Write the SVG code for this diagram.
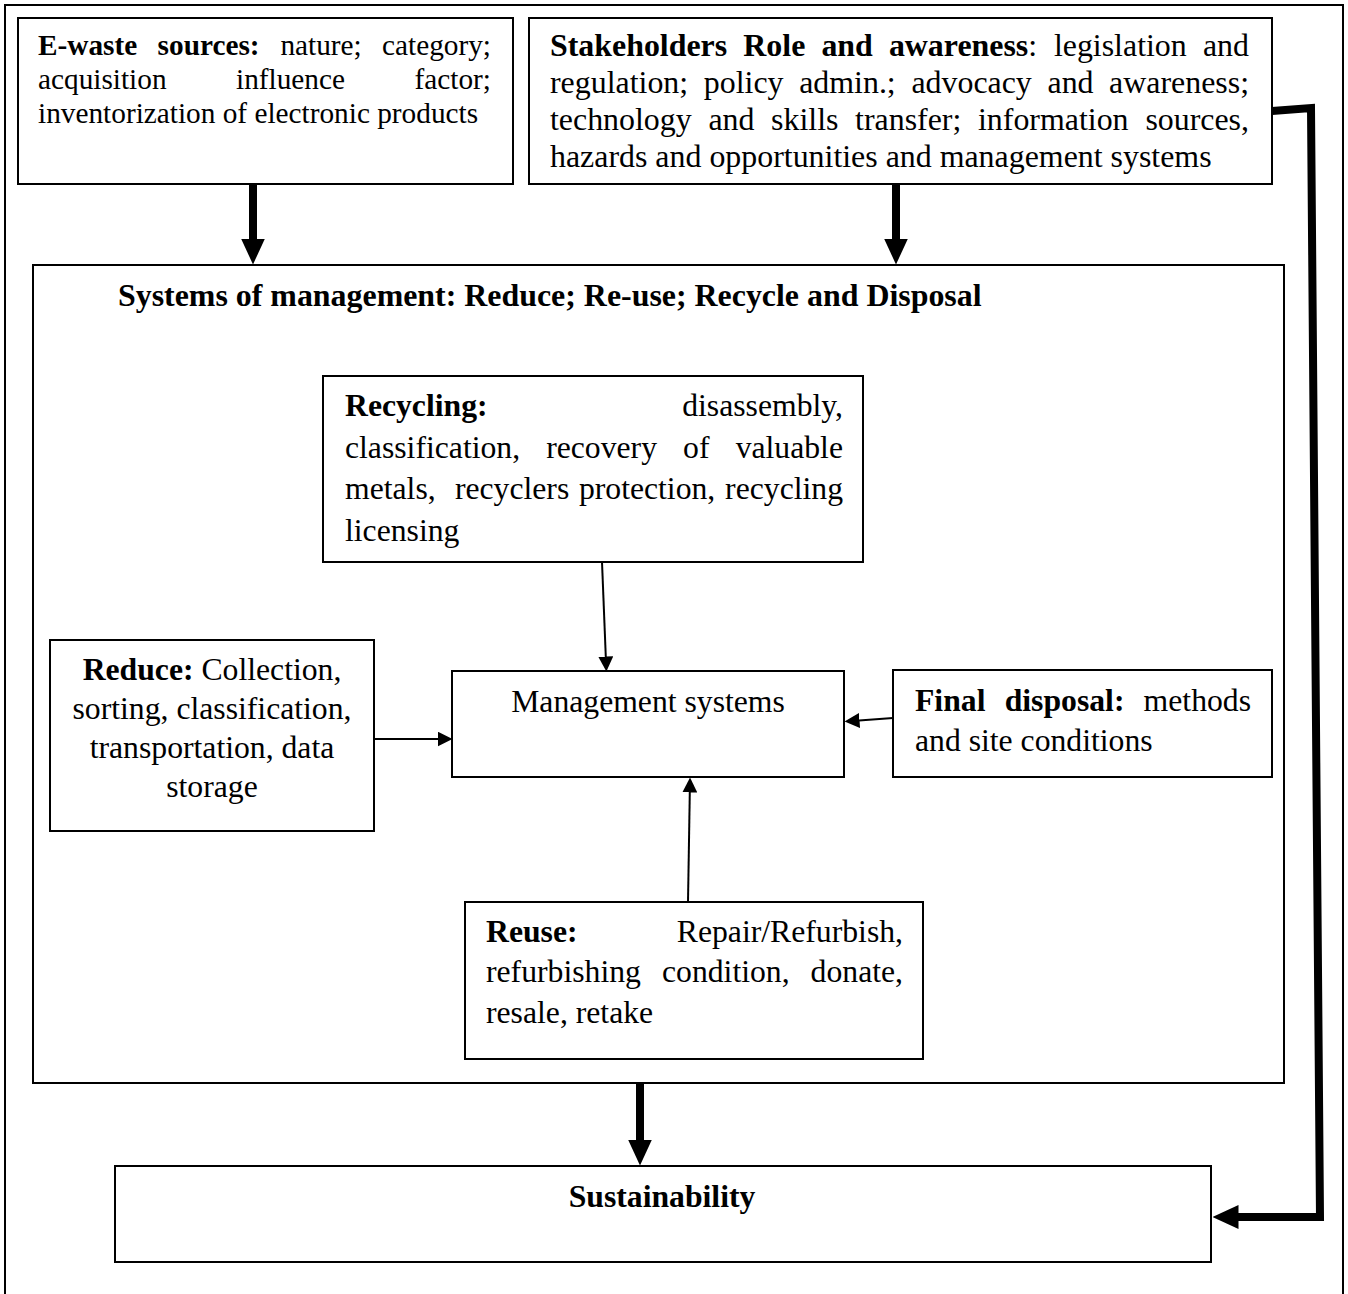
<svg xmlns="http://www.w3.org/2000/svg" width="1348" height="1294" viewBox="0 0 1348 1294">
<style>
.box{fill:#fff;stroke:#000;stroke-width:2}
.t{font-family:"Liberation Serif","Times New Roman",serif;fill:#000}
.b{font-weight:bold}
.f29{font-size:29.3px}
.f32{font-size:31.9px}
.f31{font-size:31.7px}
.thick{fill:none;stroke:#000;stroke-width:8}
.thin{fill:none;stroke:#000;stroke-width:2}
</style>
<defs>
<marker id="bigHead" markerUnits="userSpaceOnUse" viewBox="0 0 26 24" refX="0.5" refY="12" markerWidth="26" markerHeight="24" orient="auto">
<path d="M0,0 L26,12 L0,24 Z" fill="#000"/>
</marker>
<marker id="smallHead" markerUnits="userSpaceOnUse" viewBox="0 0 15 15" refX="0.5" refY="7.5" markerWidth="15" markerHeight="15" orient="auto">
<path d="M0,0 L15,7.5 L0,15 Z" fill="#000"/>
</marker>
</defs>
<rect width="1348" height="1294" fill="#fff"/>
<path d="M5,1294 V5 H1343 V1294" fill="none" stroke="#000" stroke-width="2"/>

<g id="ewaste">
<rect class="box" x="18" y="18" width="495" height="166"/>
<text class="t f29" y="55"><tspan x="38" class="b">E-waste</tspan><tspan x="157.6" class="b">sources:</tspan><tspan x="280.4">nature;</tspan></text>
<text class="t f29" x="491" y="55" text-anchor="end">category;</text>
<text class="t f29" y="89"><tspan x="38">acquisition</tspan><tspan x="236">influence</tspan></text>
<text class="t f29" x="491" y="89" text-anchor="end">factor;</text>
<text class="t f29" x="38" y="123">inventorization of electronic products</text>
</g>

<g id="stakeholders">
<rect class="box" x="529" y="18" width="743" height="166"/>
<text class="t f32" y="56"><tspan x="550" class="b">Stakeholders</tspan><tspan x="743.3" class="b">Role</tspan><tspan x="821.4" class="b">and</tspan><tspan x="888.9" class="b">awareness</tspan><tspan>: </tspan><tspan x="1053.9">legislation</tspan></text>
<text class="t f32" x="1249" y="56" text-anchor="end">and</text>
<text class="t f32" y="93"><tspan x="550">regulation;</tspan><tspan x="703.8">policy</tspan><tspan x="799.2">admin.;</tspan><tspan x="911.4">advocacy</tspan><tspan x="1047.5">and</tspan></text>
<text class="t f32" x="1249" y="93" text-anchor="end">awareness;</text>
<text class="t f32" y="130"><tspan x="550">technology</tspan><tspan x="708.4">and</tspan><tspan x="771.1">skills</tspan><tspan x="855.1">transfer;</tspan><tspan x="978">information</tspan></text>
<text class="t f32" x="1249" y="130" text-anchor="end">sources,</text>
<text class="t f32" x="550" y="167">hazards and opportunities and management systems</text>
</g>

<g id="systems">
<rect class="box" x="33" y="265" width="1251" height="818"/>
<text class="t f32 b" x="118" y="306">Systems of management: Reduce; Re-use; Recycle and Disposal</text>
</g>

<g id="recycling">
<rect class="box" x="323" y="376" width="540" height="186"/>
<text class="t f31 b" x="345" y="416">Recycling:</text>
<text class="t f31" x="843" y="416" text-anchor="end">disassembly,</text>
<text class="t f31" y="458"><tspan x="345">classification,</tspan><tspan x="546.2">recovery</tspan><tspan x="683.1">of</tspan></text>
<text class="t f31" x="843" y="458" text-anchor="end">valuable</text>
<text class="t f31" y="499"><tspan x="345">metals,</tspan><tspan x="454.9">recyclers</tspan><tspan x="578.9">protection,</tspan></text>
<text class="t f31" x="843" y="499" text-anchor="end">recycling</text>
<text class="t f31" x="345" y="541">licensing</text>
</g>

<g id="management">
<rect class="box" x="452" y="671" width="392" height="106"/>
<text class="t f31" x="648" y="712" text-anchor="middle">Management systems</text>
</g>

<g id="reduce">
<rect class="box" x="50" y="640" width="324" height="191"/>
<text class="t f31" x="212" y="680" text-anchor="middle"><tspan class="b">Reduce:</tspan> Collection,</text>
<text class="t f31" x="212" y="719" text-anchor="middle">sorting, classification,</text>
<text class="t f31" x="212" y="758" text-anchor="middle">transportation, data</text>
<text class="t f31" x="212" y="797" text-anchor="middle">storage</text>
</g>

<g id="disposal">
<rect class="box" x="893" y="670" width="379" height="107"/>
<text class="t f31 b" y="711"><tspan x="915">Final</tspan><tspan x="1004.7">disposal:</tspan></text>
<text class="t f31" x="1251" y="711" text-anchor="end">methods</text>
<text class="t f31" x="915" y="751">and site conditions</text>
</g>

<g id="reuse">
<rect class="box" x="465" y="902" width="458" height="157"/>
<text class="t f31 b" x="486" y="942">Reuse:</text>
<text class="t f31" x="903" y="942" text-anchor="end">Repair/Refurbish,</text>
<text class="t f31" y="982"><tspan x="486">refurbishing</tspan><tspan x="662">condition,</tspan></text>
<text class="t f31" x="903" y="982" text-anchor="end">donate,</text>
<text class="t f31" x="486" y="1023">resale, retake</text>
</g>

<g id="sustainability">
<rect class="box" x="115" y="1166" width="1096" height="96"/>
<text class="t f31 b" x="662" y="1207" text-anchor="middle">Sustainability</text>
</g>

<g id="connectors">
<path class="thick" d="M253,184 V239" marker-end="url(#bigHead)"/>
<path class="thick" d="M896,184 V239" marker-end="url(#bigHead)"/>
<path class="thick" d="M640,1083 V1140" marker-end="url(#bigHead)"/>
<path class="thick" d="M1272,111 L1311,108 L1320,1217 L1238,1217" stroke-linejoin="miter" marker-end="url(#bigHead)"/>
<path class="thin" d="M602,562 L605.8,657" marker-end="url(#smallHead)"/>
<path class="thin" d="M374,739 H438" marker-end="url(#smallHead)"/>
<path class="thin" d="M893,718 L859,720.5" marker-end="url(#smallHead)"/>
<path class="thin" d="M688,902 L689.8,792" marker-end="url(#smallHead)"/>
</g>
</svg>
